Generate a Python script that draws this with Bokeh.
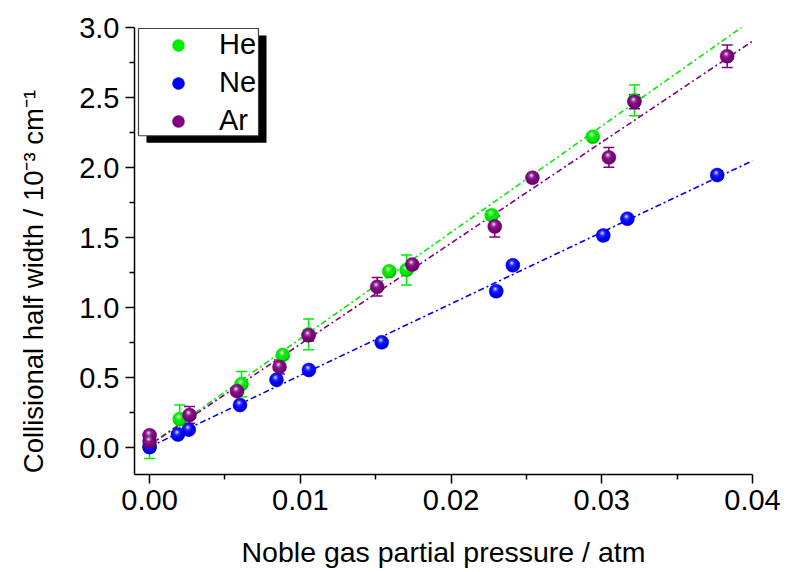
from urllib.parse import quote
from bokeh.plotting import figure
from bokeh.models import (ColumnDataSource, Whisker, TeeHead, Legend, LegendItem,
                          BoxAnnotation, FixedTicker, PrintfTickFormatter, Range1d)
from bokeh.embed import file_html
from bokeh.resources import INLINE

# ---------------- data ----------------
he_x = [0.0, 0.0020, 0.0061, 0.00884, 0.01055, 0.0159, 0.01705, 0.0227, 0.0294, 0.03217]
he_y = [0.01, 0.206, 0.455, 0.663, 0.81, 1.26, 1.27, 1.66, 2.22, 2.48]
he_err = [0.085, 0.10, 0.09, 0.03, 0.11, 0.02, 0.107, 0.03, 0.02, 0.11]

ne_x = [0.0, 0.00188, 0.0026, 0.0060, 0.00842, 0.01057, 0.0154, 0.0230, 0.0241, 0.0301, 0.0317, 0.03766]
ne_y = [0.005, 0.095, 0.13, 0.306, 0.486, 0.556, 0.753, 1.118, 1.303, 1.516, 1.635, 1.947]
ne_err = [0.02, 0.02, 0.02, 0.02, 0.02, 0.02, 0.03, 0.03, 0.02, 0.03, 0.02, 0.03]

ar_x = [0.0, 0.0, 0.00265, 0.0058, 0.00862, 0.01055, 0.0151, 0.01743, 0.0229, 0.0254, 0.03047, 0.03217, 0.03832]
ar_y = [0.045, 0.09, 0.235, 0.405, 0.578, 0.803, 1.149, 1.308, 1.58, 1.928, 2.073, 2.47, 2.795]
ar_err = [0.02, 0.02, 0.06, 0.03, 0.05, 0.04, 0.066, 0.03, 0.075, 0.03, 0.07, 0.05, 0.08]

fit_x = [0.0, 0.04]
he_fit = [0.02, 3.056]
ne_fit = [0.007, 2.049]
ar_fit = [0.02, 2.902]

x_ticks = [0.0, 0.01, 0.02, 0.03, 0.04]
x_minor = [0.005, 0.015, 0.025, 0.035]
y_ticks = [0.0, 0.5, 1.0, 1.5, 2.0, 2.5, 3.0]
y_minor = [0.25, 0.75, 1.25, 1.75, 2.25, 2.75]

labels = ["He", "Ne", "Ar"]
colors = ["#00ee00", "#0000ff", "#800080"]

# ---------------- figure ----------------
X0, X1 = -0.001, 0.04
Y0, Y1 = -0.19, 3.0
W, H = 784, 570
BL, BR, BT, BB = 134, 32, 27, 93
FW, FH = W - BL - BR, H - BT - BB

p = figure(width=W, height=H, output_backend="svg", toolbar_location=None,
           x_range=Range1d(X0, X1), y_range=Range1d(Y0, Y1),
           min_border_left=BL, min_border_right=BR, min_border_top=BT, min_border_bottom=BB)
p.outline_line_color = None
p.grid.visible = False
p.background_fill_color = "white"
p.border_fill_color = "white"

FONT = "Liberation Sans"
for ax in (p.xaxis[0], p.yaxis[0]):
    ax.axis_line_width = 1.5
    ax.axis_line_color = "black"
    ax.major_tick_line_width = 1.5
    ax.minor_tick_line_width = 1.5
    ax.major_tick_out = 9
    ax.major_tick_in = 0
    ax.minor_tick_out = 5
    ax.minor_tick_in = 0
    ax.major_label_text_font = FONT
    ax.major_label_text_font_size = "29px"
    ax.major_label_text_color = "black"
    ax.major_label_standoff = 6
    ax.axis_label_text_font = FONT
    ax.axis_label_text_font_style = "normal"
    ax.axis_label_text_color = "black"
p.xaxis.axis_label_text_font_size = "28.5px"
p.yaxis.axis_label_text_font_size = "27.5px"

p.xaxis.ticker = FixedTicker(ticks=x_ticks, minor_ticks=x_minor)
p.yaxis.ticker = FixedTicker(ticks=y_ticks, minor_ticks=y_minor)
p.xaxis.formatter = PrintfTickFormatter(format="%.2f")
p.yaxis.formatter = PrintfTickFormatter(format="%.1f")
p.xaxis.axis_label = "Noble gas partial pressure / atm"
# trailing no-break spaces nudge the title toward the bottom, as in the original
p.yaxis.axis_label = "Collisional half width / 10\u207b\u00b3 cm\u207b\u00b9" + "\u00a0" * 8
p.xaxis.axis_label_standoff = 23
p.yaxis.axis_label_standoff = 27

# sphere highlight overlay
svg = ("<svg xmlns='http://www.w3.org/2000/svg' width='28' height='28' viewBox='0 0 28 28'>"
       "<defs><radialGradient id='g' cx='0.45' cy='0.42' r='0.6' fx='0.42' fy='0.32'>"
       "<stop offset='0' stop-color='#ffffff' stop-opacity='0.9'/>"
       "<stop offset='0.28' stop-color='#ffffff' stop-opacity='0.2'/>"
       "<stop offset='0.7' stop-color='#000000' stop-opacity='0'/>"
       "<stop offset='1' stop-color='#000000' stop-opacity='0.35'/>"
       "</radialGradient></defs><circle cx='14' cy='14' r='14' fill='url(#g)'/></svg>")
sphere_url = "data:image/svg+xml;charset=utf-8," + quote(svg)

series = [(he_x, he_y, he_err, he_fit), (ne_x, ne_y, ne_err, ne_fit), (ar_x, ar_y, ar_err, ar_fit)]

# fit lines
for (xs, ys, es, fit), c in zip(series, colors):
    p.line(fit_x, fit, line_color=c, line_width=1.6, line_dash="6 3 2 3")

# error bars
for (xs, ys, es, fit), c in zip(series, colors):
    src = ColumnDataSource(dict(x=xs, upper=[y + e for y, e in zip(ys, es)],
                                lower=[y - e for y, e in zip(ys, es)]))
    wk = Whisker(source=src, base="x", upper="upper", lower="lower", dimension="height",
                 line_color=c, line_width=1.5, level="underlay",
                 upper_head=TeeHead(size=11, line_color=c, line_width=1.5),
                 lower_head=TeeHead(size=11, line_color=c, line_width=1.5))
    p.add_layout(wk)

# markers
renderers = []
for (xs, ys, es, fit), c in zip(series, colors):
    src = ColumnDataSource(dict(x=xs, y=ys, url=[sphere_url] * len(xs)))
    r = p.scatter("x", "y", source=src, marker="circle", size=14, fill_color=c,
                  line_color=c, line_width=0.5)
    p.image_url(url="url", x="x", y="y", w=14, h=14, w_units="screen", h_units="screen",
                anchor="center", source=src)
    renderers.append(r)

# legend frame and shadow (pixel positions converted to data space)
def xd(px):
    return X0 + (px - BL) / FW * (X1 - X0)

def yd(py):
    return Y1 - (py - BT) / FH * (Y1 - Y0)

shadow = BoxAnnotation(left=xd(146), right=xd(266), top=yd(35), bottom=yd(143),
                       fill_color="black", fill_alpha=1.0, line_color=None)
p.add_layout(shadow)
box = BoxAnnotation(left=xd(138), right=xd(258), top=yd(28), bottom=yd(136),
                    fill_color="white", fill_alpha=1.0, line_color="#404040", line_width=1.2,
                    line_alpha=1.0)
p.add_layout(box)

legend = Legend(items=[LegendItem(label=l, renderers=[r]) for l, r in zip(labels, renderers)],
                location=(9, 337), margin=0, padding=4, spacing=5,
                glyph_width=70, glyph_height=30, label_height=30, label_standoff=6,
                label_text_font=FONT, label_text_font_size="29px", label_text_color="black",
                border_line_color=None, background_fill_alpha=0.0)
p.add_layout(legend)

open("out.html", "w").write(file_html(p, INLINE))
